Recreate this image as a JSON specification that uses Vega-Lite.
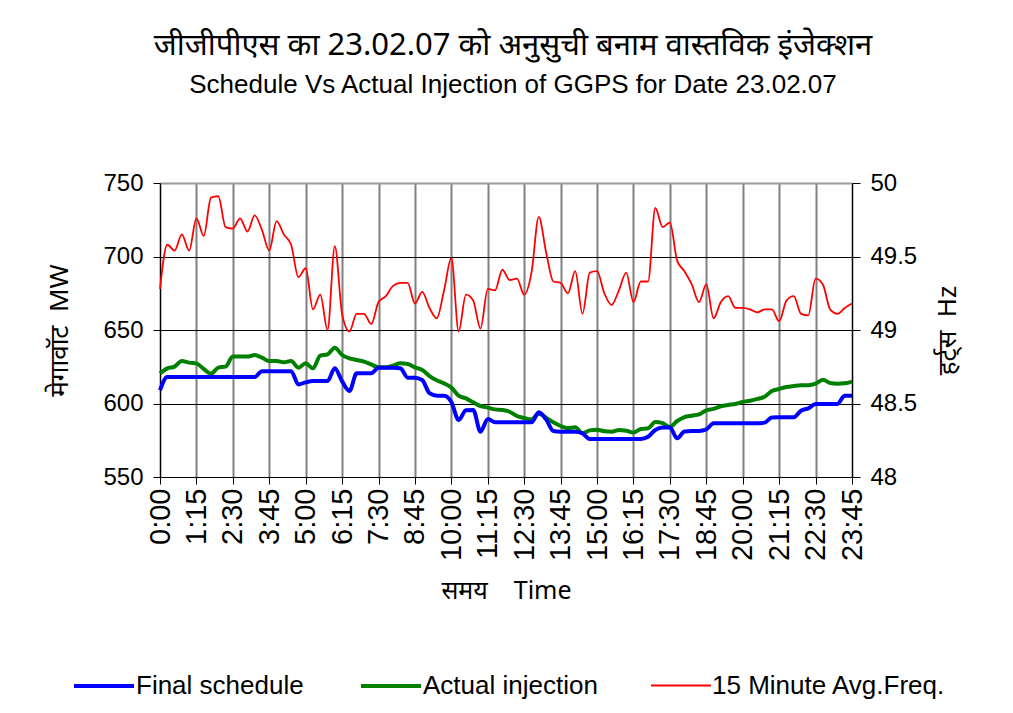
{
  "$schema": "https://vega.github.io/schema/vega-lite/v6.json",
  "autosize": {"type": "none"},
  "width": 692,
  "height": 294,
  "padding": {"left": 160, "top": 183, "right": 161, "bottom": 236},
  "background": "white",
  "config": {"font": "Liberation Sans", "view": {"stroke": null}},
  "title": {
    "text": "जीजीपीएस का 23.02.07 को अनुसुची बनाम वास्तविक इंजेक्शन",
    "subtitle": "Schedule Vs Actual Injection of GGPS for Date 23.02.07",
    "anchor": "middle",
    "frame": "group",
    "dx": 7,
    "font": "Noto Sans",
    "fontSize": 31,
    "fontWeight": "normal",
    "color": "black",
    "subtitleFont": "Liberation Sans",
    "subtitleFontSize": 26,
    "subtitleColor": "black",
    "subtitlePadding": 10,
    "offset": 72
  },
  "data": {"values": [
    {"t":"0:00","sched":609,"act":620.5,"freq":49.28},
    {"t":"0:15","sched":618,"act":623.9,"freq":49.58},
    {"t":"0:30","sched":618,"act":625.1,"freq":49.54},
    {"t":"0:45","sched":618,"act":628.9,"freq":49.65},
    {"t":"1:00","sched":618,"act":627.8,"freq":49.54},
    {"t":"1:15","sched":618,"act":627.3,"freq":49.76},
    {"t":"1:30","sched":618,"act":623.5,"freq":49.64},
    {"t":"1:45","sched":618,"act":620.3,"freq":49.90},
    {"t":"2:00","sched":618,"act":624.4,"freq":49.91},
    {"t":"2:15","sched":618,"act":625.1,"freq":49.70},
    {"t":"2:30","sched":618,"act":631.9,"freq":49.69},
    {"t":"2:45","sched":618,"act":631.9,"freq":49.76},
    {"t":"3:00","sched":618,"act":631.9,"freq":49.67},
    {"t":"3:15","sched":618,"act":633.0,"freq":49.78},
    {"t":"3:30","sched":622,"act":631.2,"freq":49.68},
    {"t":"3:45","sched":622,"act":628.9,"freq":49.54},
    {"t":"4:00","sched":622,"act":628.9,"freq":49.74},
    {"t":"4:15","sched":622,"act":628.0,"freq":49.65},
    {"t":"4:30","sched":622,"act":628.9,"freq":49.58},
    {"t":"4:45","sched":613,"act":624.4,"freq":49.36},
    {"t":"5:00","sched":614.4,"act":627.3,"freq":49.42},
    {"t":"5:15","sched":615.3,"act":623.9,"freq":49.14},
    {"t":"5:30","sched":615.3,"act":632.5,"freq":49.24},
    {"t":"5:45","sched":615.3,"act":633.4,"freq":49.00},
    {"t":"6:00","sched":624,"act":638.0,"freq":49.57},
    {"t":"6:15","sched":615,"act":633.0,"freq":49.11},
    {"t":"6:30","sched":608.5,"act":630.7,"freq":48.99},
    {"t":"6:45","sched":620.5,"act":629.6,"freq":49.11},
    {"t":"7:00","sched":620.5,"act":628.5,"freq":49.11},
    {"t":"7:15","sched":620.5,"act":626.6,"freq":49.04},
    {"t":"7:30","sched":624.4,"act":624.6,"freq":49.19},
    {"t":"7:45","sched":624.4,"act":624.6,"freq":49.23},
    {"t":"8:00","sched":624.4,"act":625.7,"freq":49.30},
    {"t":"8:15","sched":624,"act":627.3,"freq":49.32},
    {"t":"8:30","sched":617.6,"act":626.9,"freq":49.32},
    {"t":"8:45","sched":617.6,"act":624.6,"freq":49.18},
    {"t":"9:00","sched":616,"act":622.8,"freq":49.26},
    {"t":"9:15","sched":607,"act":618.7,"freq":49.15},
    {"t":"9:30","sched":605.3,"act":615.8,"freq":49.08},
    {"t":"9:45","sched":605.3,"act":613.7,"freq":49.27},
    {"t":"10:00","sched":601,"act":610.8,"freq":49.49},
    {"t":"10:15","sched":588.8,"act":605.3,"freq":48.99},
    {"t":"10:30","sched":595.4,"act":603.5,"freq":49.24},
    {"t":"10:45","sched":595.6,"act":600.8,"freq":49.20},
    {"t":"11:00","sched":580.8,"act":598.3,"freq":49.01},
    {"t":"11:15","sched":589.5,"act":597.2,"freq":49.28},
    {"t":"11:30","sched":587.2,"act":596.0,"freq":49.27},
    {"t":"11:45","sched":587.2,"act":595.6,"freq":49.41},
    {"t":"12:00","sched":587.2,"act":594.4,"freq":49.34},
    {"t":"12:15","sched":587.2,"act":591.5,"freq":49.35},
    {"t":"12:30","sched":587.2,"act":590.1,"freq":49.24},
    {"t":"12:45","sched":587.2,"act":589.2,"freq":49.39},
    {"t":"13:00","sched":594,"act":593.1,"freq":49.77},
    {"t":"13:15","sched":589.2,"act":590.4,"freq":49.53},
    {"t":"13:30","sched":581.3,"act":587.2,"freq":49.33},
    {"t":"13:45","sched":580.8,"act":584.7,"freq":49.32},
    {"t":"14:00","sched":580.8,"act":583.3,"freq":49.25},
    {"t":"14:15","sched":580.8,"act":583.8,"freq":49.40},
    {"t":"14:30","sched":579.7,"act":579.7,"freq":49.11},
    {"t":"14:45","sched":575.9,"act":581.7,"freq":49.39},
    {"t":"15:00","sched":575.9,"act":582.2,"freq":49.40},
    {"t":"15:15","sched":575.9,"act":581.1,"freq":49.25},
    {"t":"15:30","sched":575.9,"act":580.8,"freq":49.17},
    {"t":"15:45","sched":575.9,"act":582.0,"freq":49.27},
    {"t":"16:00","sched":575.9,"act":581.5,"freq":49.39},
    {"t":"16:15","sched":575.9,"act":580.2,"freq":49.19},
    {"t":"16:30","sched":575.9,"act":582.7,"freq":49.33},
    {"t":"16:45","sched":577.4,"act":583.1,"freq":49.33},
    {"t":"17:00","sched":582,"act":587.4,"freq":49.83},
    {"t":"17:15","sched":583.6,"act":586.7,"freq":49.70},
    {"t":"17:30","sched":583.6,"act":584.0,"freq":49.73},
    {"t":"17:45","sched":576.3,"act":588.1,"freq":49.47},
    {"t":"18:00","sched":581,"act":590.8,"freq":49.40},
    {"t":"18:15","sched":581.3,"act":591.7,"freq":49.31},
    {"t":"18:30","sched":581.3,"act":592.6,"freq":49.19},
    {"t":"18:45","sched":582.4,"act":595.4,"freq":49.31},
    {"t":"19:00","sched":586.5,"act":596.3,"freq":49.08},
    {"t":"19:15","sched":586.5,"act":598.1,"freq":49.19},
    {"t":"19:30","sched":586.5,"act":599.0,"freq":49.23},
    {"t":"19:45","sched":586.5,"act":599.7,"freq":49.15},
    {"t":"20:00","sched":586.5,"act":601.0,"freq":49.15},
    {"t":"20:15","sched":586.5,"act":601.9,"freq":49.14},
    {"t":"20:30","sched":586.5,"act":603.1,"freq":49.12},
    {"t":"20:45","sched":587,"act":604.6,"freq":49.14},
    {"t":"21:00","sched":590.4,"act":608.5,"freq":49.14},
    {"t":"21:15","sched":590.6,"act":609.9,"freq":49.06},
    {"t":"21:30","sched":590.6,"act":611.2,"freq":49.20},
    {"t":"21:45","sched":590.6,"act":611.9,"freq":49.23},
    {"t":"22:00","sched":595.1,"act":612.4,"freq":49.11},
    {"t":"22:15","sched":596.7,"act":612.4,"freq":49.10},
    {"t":"22:30","sched":599.7,"act":613.5,"freq":49.35},
    {"t":"22:45","sched":599.7,"act":616.2,"freq":49.31},
    {"t":"23:00","sched":599.7,"act":613.9,"freq":49.14},
    {"t":"23:15","sched":599.7,"act":613.5,"freq":49.11},
    {"t":"23:30","sched":605.3,"act":613.7,"freq":49.15},
    {"t":"23:45","sched":605.3,"act":614.9,"freq":49.18}
  ]},
  "transform": [{"fold": ["sched", "act", "freq"], "as": ["key", "val"]}],
  "encoding": {
    "x": {
      "field": "t", "type": "ordinal", "sort": null,
      "scale": {"type": "point", "padding": 0},
      "axis": {
        "values": ["0:00","1:15","2:30","3:45","5:00","6:15","7:30","8:45","10:00","11:15","12:30","13:45","15:00","16:15","17:30","18:45","20:00","21:15","22:30","23:45"],
        "labelAngle": 270,
        "labelFontSize": 29,
        "labelColor": "black",
        "labelPadding": 4,
        "tickSize": 7,
        "tickColor": "black",
        "domainColor": "black",
        "grid": true,
        "gridColor": "#808080",
        "gridWidth": 2,
        "title": "समय\u00a0\u00a0\u00a0\u00a0Time",
        "titleFont": "Noto Sans",
        "titleFontSize": 25,
        "titleFontWeight": "normal",
        "titleColor": "black",
        "titlePadding": 18
      }
    },
    "color": {
      "field": "key", "type": "nominal",
      "scale": {"domain": ["sched", "act", "freq"], "range": ["#0000ff", "#008000", "#ff0000"]},
      "legend": {
        "orient": "none", "legendX": -88, "legendY": 471, "direction": "horizontal",
        "title": null, "symbolType": "stroke", "symbolSize": 3600,
        "labelFontSize": 26, "labelFont": "Liberation Sans", "labelColor": "black",
        "labelOffset": 0, "columnPadding": 49, "labelLimit": 0,
        "labelExpr": "datum.label == 'sched' ? 'Final schedule' : datum.label == 'act' ? 'Actual injection' : '15 Minute Avg.Freq.'"
      }
    },
    "strokeWidth": {
      "field": "key", "type": "ordinal",
      "scale": {"type": "ordinal", "domain": ["sched", "act", "freq"], "range": [4, 4, 1.8]},
      "legend": {
        "orient": "none", "legendX": -88, "legendY": 471, "direction": "horizontal",
        "title": null, "symbolType": "stroke", "symbolSize": 3600,
        "labelFontSize": 26, "labelFont": "Liberation Sans", "labelColor": "black",
        "labelOffset": 0, "columnPadding": 49, "labelLimit": 0,
        "labelExpr": "datum.label == 'sched' ? 'Final schedule' : datum.label == 'act' ? 'Actual injection' : '15 Minute Avg.Freq.'"
      }
    }
  },
  "layer": [
    {
      "encoding": {
        "y": {
          "field": "val", "type": "quantitative",
          "scale": {"domain": [550, 750], "nice": false, "zero": false},
          "axis": {
            "orient": "left",
            "values": [550, 600, 650, 700, 750],
            "labelFontSize": 24, "labelColor": "black", "labelPadding": 10,
            "tickSize": 7, "tickColor": "black", "domainColor": "black",
            "grid": true,
            "gridColor": {"condition": {"test": "datum.value == 750", "value": "#999999"}, "value": "black"},
            "gridWidth": {"condition": {"test": "datum.value == 750", "value": 2}, "value": 1},
            "title": "मेगावॉट\u00a0\u00a0MW", "titleFont": "Noto Sans", "titleFontSize": 26,
            "titleFontWeight": "normal", "titleColor": "black", "titlePadding": 30
          }
        }
      },
      "layer": [
        {"transform": [{"filter": "datum.key == 'act'"}], "mark": {"type": "line", "interpolate": "monotone", "strokeWidth": 4}},
        {"transform": [{"filter": "datum.key == 'sched'"}], "mark": {"type": "line", "interpolate": "monotone", "strokeWidth": 4}}
      ]
    },
    {
      "transform": [{"filter": "datum.key == 'freq'"}],
      "mark": {"type": "line", "interpolate": "monotone", "strokeWidth": 1.8},
      "encoding": {
        "y": {
          "field": "val", "type": "quantitative",
          "scale": {"domain": [48, 50], "nice": false, "zero": false},
          "axis": {
            "orient": "right",
            "values": [48, 48.5, 49, 49.5, 50],
            "format": "~g",
            "labelFontSize": 24, "labelColor": "black", "labelPadding": 10,
            "tickSize": 8, "tickColor": "black", "domainColor": "black",
            "grid": false,
            "title": "हर्ट्स\u00a0\u00a0Hz", "titleFont": "Noto Sans", "titleFontSize": 26,
            "titleAngle": -90,
            "titleFontWeight": "normal", "titleColor": "black", "titlePadding": 44
          }
        }
      }
    }
  ],
  "resolve": {"scale": {"y": "independent"}}
}
